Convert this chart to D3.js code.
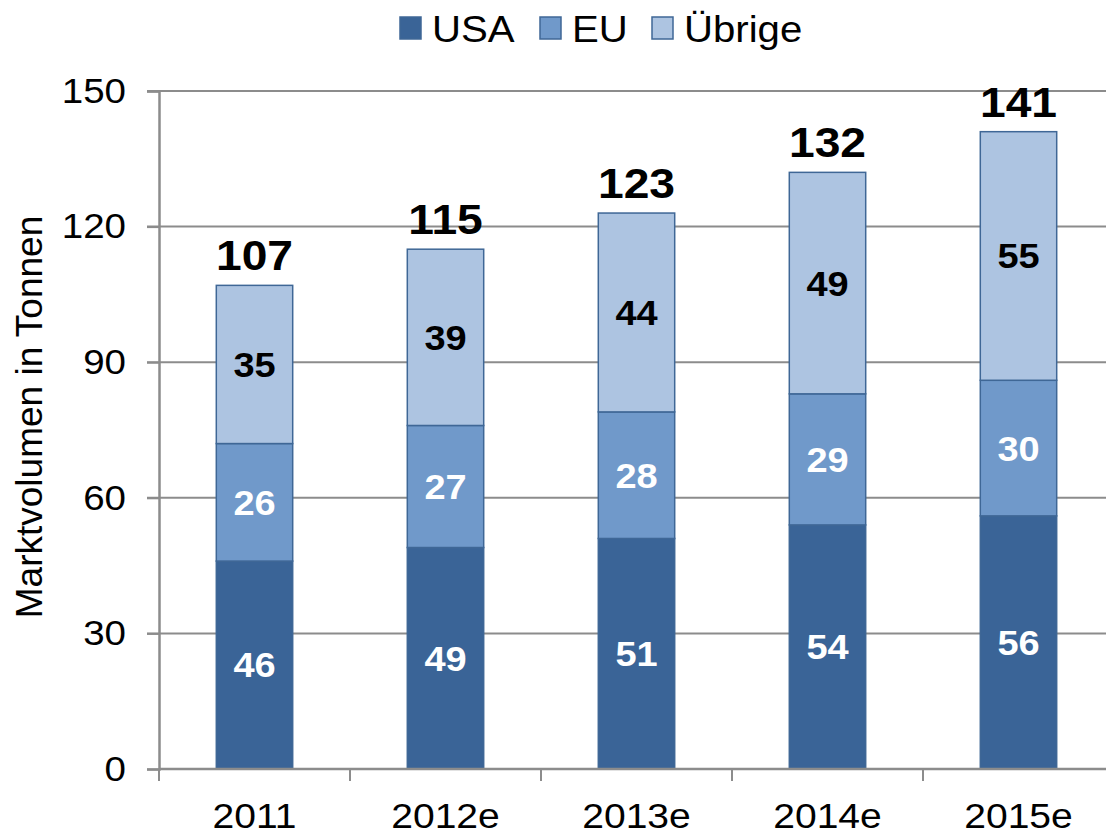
<!DOCTYPE html>
<html>
<head>
<meta charset="utf-8">
<script src="https://cdn.jsdelivr.net/npm/d3@7"></script>
<style>
  body { margin: 0; background: #fff; }
  text { font-family: "Liberation Sans", Arial, sans-serif; }
</style>
</head>
<body>
<script>
const years = ["2011", "2012e", "2013e", "2014e", "2015e"];
const usa = [46, 49, 51, 54, 56];
const eu = [26, 27, 28, 29, 30];
const other = [35, 39, 44, 49, 55];
const totals = [107, 115, 123, 132, 141];
const seriesNames = ["USA", "EU", "Übrige"];
const yTicks = [0, 30, 60, 90, 120, 150];

const colors = ["#3a6497", "#7099ca", "#adc4e1"];
const labelColors = ["#fff", "#fff", "#000"];
const stretch = 1.1; // text in the picture is a bit wider than tall

const width = 1106, height = 836;
const margin = {top: 91, left: 159, bottom: 67};

const svg = d3.select("body").append("svg")
    .attr("width", width)
    .attr("height", height);

const rows = years.map((y, i) => ({year: y, USA: usa[i], EU: eu[i], "Übrige": other[i]}));
const stacked = d3.stack().keys(seriesNames)(rows);

const x = d3.scaleBand()
    .domain(years)
    .range([margin.left, margin.left + 5 * 191]);

const y = d3.scaleLinear()
    .domain([0, 150])
    .range([height - margin.bottom, margin.top]);

const barW = x.bandwidth() * 0.4;

// gridlines
svg.append("g")
  .selectAll("line")
  .data(yTicks.slice(1))
  .join("line")
    .attr("x1", margin.left - 12)
    .attr("x2", width)
    .attr("y1", d => y(d))
    .attr("y2", d => y(d))
    .attr("stroke", "#8c8c8c")
    .attr("stroke-width", 2);

// y axis
const yAxis = svg.append("g")
    .attr("transform", `translate(${margin.left},0)`)
    .call(d3.axisLeft(y).tickValues(yTicks).tickSize(12).tickPadding(20));
yAxis.select(".domain").attr("stroke", "#8c8c8c").attr("stroke-width", 2.5);
yAxis.selectAll(".tick line").attr("stroke", "#8c8c8c").attr("stroke-width", 2);
yAxis.selectAll(".tick text")
    .attr("x", null)
    .attr("transform", `translate(-33,0) scale(${stretch},1)`)
    .attr("font-size", 35)
    .attr("fill", "#000")
    .attr("font-family", "Liberation Sans, Arial, sans-serif");

// bars
const groups = svg.append("g")
  .selectAll("g")
  .data(stacked)
  .join("g")
    .attr("fill", (d, i) => colors[i]);

groups.selectAll("rect")
  .data(d => d)
  .join("rect")
    .attr("x", d => x(d.data.year) + (x.bandwidth() - barW) / 2)
    .attr("y", d => y(d[1]))
    .attr("width", barW)
    .attr("height", d => y(d[0]) - y(d[1]))
    .attr("stroke", "#3f6796")
    .attr("stroke-width", 1.5);

// segment labels
groups.each(function(s, si) {
  d3.select(this).selectAll("text")
    .data(s)
    .join("text")
      .attr("transform", d => `translate(${x(d.data.year) + x.bandwidth() / 2},${(y(d[0]) + y(d[1])) / 2}) scale(${stretch},1)`)
      .attr("text-anchor", "middle")
      .attr("dy", "0.36em")
      .attr("font-size", 34.5)
      .attr("font-weight", "bold")
      .attr("fill", labelColors[si])
      .text(d => d[1] - d[0]);
});

// x axis
const xAxis = svg.append("g")
    .attr("transform", `translate(0,${y(0)})`);
xAxis.append("line")
    .attr("x1", margin.left)
    .attr("x2", width)
    .attr("stroke", "#8c8c8c")
    .attr("stroke-width", 2.5);
xAxis.selectAll("line.tick")
  .data(years)
  .join("line")
    .attr("class", "tick")
    .attr("x1", d => x(d))
    .attr("x2", d => x(d))
    .attr("y2", 12)
    .attr("stroke", "#8c8c8c")
    .attr("stroke-width", 2);
xAxis.selectAll("text")
  .data(years)
  .join("text")
    .attr("transform", d => `translate(${x(d) + x.bandwidth() / 2},59) scale(${stretch},1)`)
    .attr("text-anchor", "middle")
    .attr("font-size", 35.5)
    .text(d => d);

// totals
svg.append("g")
  .selectAll("text")
  .data(years)
  .join("text")
    .attr("transform", (d, i) => `translate(${x(d) + x.bandwidth() / 2},${y(totals[i]) - 15}) scale(${stretch},1)`)
    .attr("text-anchor", "middle")
    .attr("font-size", 42)
    .attr("font-weight", "bold")
    .text((d, i) => totals[i]);

// y title
svg.append("text")
    .attr("transform", `translate(42,417) rotate(-90)`)
    .attr("text-anchor", "middle")
    .attr("font-size", 37)
    .text("Marktvolumen in Tonnen");

// legend
const legendX = [400, 540, 652];
const legend = svg.append("g")
  .selectAll("g")
  .data(seriesNames)
  .join("g")
    .attr("transform", (d, i) => `translate(${legendX[i]},17)`);
legend.append("rect")
    .attr("width", 21)
    .attr("height", 22)
    .attr("fill", (d, i) => colors[i])
    .attr("stroke", "#3f6796")
    .attr("stroke-width", 1.5);
legend.append("text")
    .attr("transform", `translate(32,25) scale(${stretch},1)`)
    .attr("font-size", 36.5)
    .text(d => d);
</script>
</body>
</html>
